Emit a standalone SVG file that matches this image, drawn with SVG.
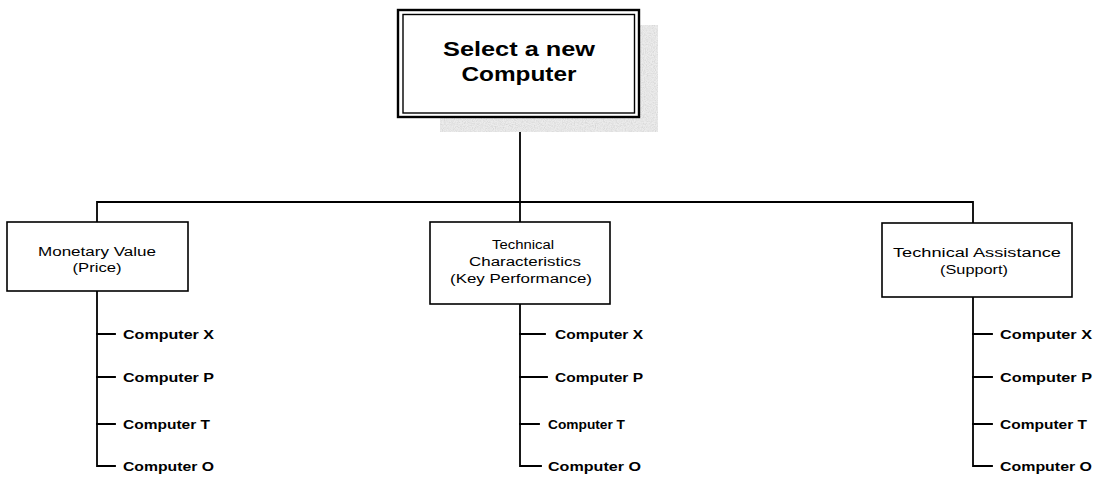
<svg xmlns="http://www.w3.org/2000/svg" width="1095" height="477" viewBox="0 0 1095 477">
  <style>
    .box { fill: #ffffff; stroke: #000000; stroke-width: 1.6; }
    .wire { fill: none; stroke: #000000; stroke-width: 1.8; stroke-linecap: square; }
    .title { font-family: "Liberation Sans", Arial, sans-serif; font-weight: bold; font-size: 19.5px; fill: #000; text-anchor: middle; }
    .head { font-family: "Liberation Sans", Arial, sans-serif; font-size: 12.5px; fill: #000; text-anchor: middle; }
    .item { font-family: "Liberation Sans", Arial, sans-serif; font-weight: bold; font-size: 12.5px; fill: #000; }
  </style>
  <defs>
    <!-- grainy grey used for the drop shadow of the root box -->
    <filter id="grain" x="0" y="0" width="100%" height="100%">
      <feTurbulence type="fractalNoise" baseFrequency="0.9" numOctaves="2" seed="4" result="n"/>
      <feColorMatrix in="n" type="matrix" values="0 0 0 0 0.68  0 0 0 0 0.68  0 0 0 0 0.68  0 0 0 2 -0.7" result="g"/>
      <feComposite in="g" in2="SourceGraphic" operator="in" result="gs"/>
      <feMerge><feMergeNode in="SourceGraphic"/><feMergeNode in="gs"/></feMerge>
    </filter>
  </defs>

  <!-- connectors -->
  <g id="connectors" class="wire">
    <path d="M520 117 V202"/>
    <path d="M97 222 V202 H973 V223"/>
    <path d="M520 202 V222"/>
    <!-- Monetary Value branches -->
    <path d="M97 291 V466 H115"/>
    <path d="M97 334 H115 M97 377 H115 M97 424 H115"/>
    <!-- Technical Characteristics branches -->
    <path d="M520 304 V466 H541"/>
    <path d="M520 334 H545 M520 377 H547 M520 424 H539"/>
    <!-- Technical Assistance branches -->
    <path d="M973 297 V466 H992"/>
    <path d="M973 334 H992 M973 377 H992 M973 424 H992"/>
  </g>

  <!-- root -->
  <g id="root">
    <path d="M639 25 H658 V132 H440 V117 H639 Z" fill="#ececec" filter="url(#grain)"/>
    <rect x="398" y="10" width="241" height="107" fill="#ffffff" stroke="#000" stroke-width="2.4"/>
    <rect x="403" y="14.5" width="231.5" height="98.5" fill="none" stroke="#000" stroke-width="1.4"/>
    <text class="title" x="519" y="56" textLength="152" lengthAdjust="spacingAndGlyphs">Select a new</text>
    <text class="title" x="519" y="81" textLength="115" lengthAdjust="spacingAndGlyphs">Computer</text>
  </g>

  <!-- criteria -->
  <g id="node-price">
    <rect class="box" x="7" y="222" width="181" height="69"/>
    <text class="head" x="97" y="256" textLength="118" lengthAdjust="spacingAndGlyphs">Monetary Value</text>
    <text class="head" x="97" y="272" textLength="49" lengthAdjust="spacingAndGlyphs">(Price)</text>
  </g>
  <g id="node-performance">
    <rect class="box" x="430" y="222" width="180" height="82"/>
    <text class="head" x="523" y="249" textLength="62" lengthAdjust="spacingAndGlyphs">Technical</text>
    <text class="head" x="525" y="266" textLength="112" lengthAdjust="spacingAndGlyphs">Characteristics</text>
    <text class="head" x="521" y="283" textLength="142" lengthAdjust="spacingAndGlyphs">(Key Performance)</text>
  </g>
  <g id="node-support">
    <rect class="box" x="882" y="223" width="190" height="74"/>
    <text class="head" x="977" y="257" textLength="168" lengthAdjust="spacingAndGlyphs">Technical Assistance</text>
    <text class="head" x="974" y="274" textLength="68" lengthAdjust="spacingAndGlyphs">(Support)</text>
  </g>

  <!-- alternatives under Monetary Value -->
  <g id="price-x"><text class="item" x="123" y="338.5" textLength="91" lengthAdjust="spacingAndGlyphs">Computer X</text></g>
  <g id="price-p"><text class="item" x="123" y="381.5" textLength="91" lengthAdjust="spacingAndGlyphs">Computer P</text></g>
  <g id="price-t"><text class="item" x="123" y="428.5" textLength="87" lengthAdjust="spacingAndGlyphs">Computer T</text></g>
  <g id="price-o"><text class="item" x="123" y="470.5" textLength="91" lengthAdjust="spacingAndGlyphs">Computer O</text></g>

  <!-- alternatives under Technical Characteristics -->
  <g id="perf-x"><text class="item" x="555" y="338.5" textLength="88" lengthAdjust="spacingAndGlyphs">Computer X</text></g>
  <g id="perf-p"><text class="item" x="555" y="381.5" textLength="88" lengthAdjust="spacingAndGlyphs">Computer P</text></g>
  <g id="perf-t"><text class="item" x="548" y="428.5" textLength="77" lengthAdjust="spacingAndGlyphs">Computer T</text></g>
  <g id="perf-o"><text class="item" x="548" y="470.5" textLength="93" lengthAdjust="spacingAndGlyphs">Computer O</text></g>

  <!-- alternatives under Technical Assistance -->
  <g id="supp-x"><text class="item" x="1000" y="338.5" textLength="92" lengthAdjust="spacingAndGlyphs">Computer X</text></g>
  <g id="supp-p"><text class="item" x="1000" y="381.5" textLength="92" lengthAdjust="spacingAndGlyphs">Computer P</text></g>
  <g id="supp-t"><text class="item" x="1000" y="428.5" textLength="87" lengthAdjust="spacingAndGlyphs">Computer T</text></g>
  <g id="supp-o"><text class="item" x="1000" y="470.5" textLength="92" lengthAdjust="spacingAndGlyphs">Computer O</text></g>
</svg>
